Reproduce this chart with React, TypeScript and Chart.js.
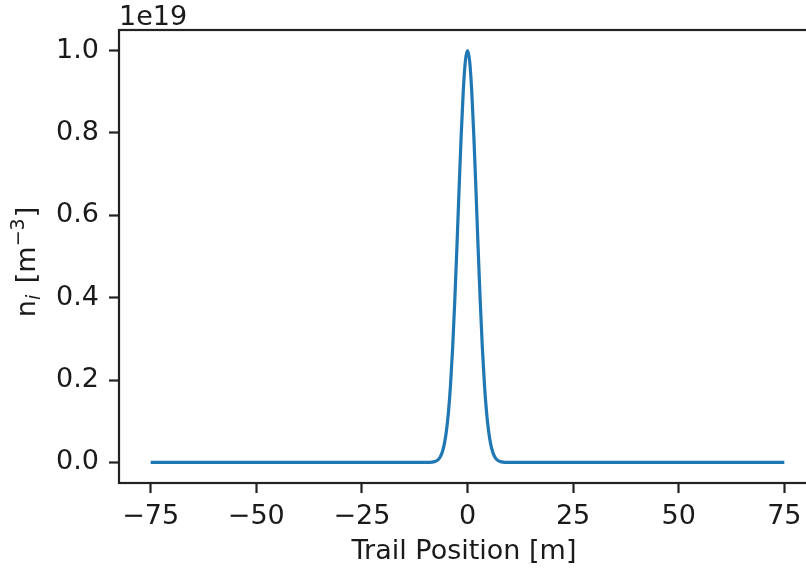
import React, { useEffect, useRef } from 'react';
import { Chart, registerables } from 'chart.js';

Chart.register(...registerables);

// Trail position [m]
const positions = [
  -75, -10, -8, -7.5, -7, -6.5, -6, -5.5, -5, -4.5, -4, -3.5, -3, -2.5, -2, -1.5, -1, -0.5,
  0, 0.5, 1, 1.5, 2, 2.5, 3, 3.5, 4, 4.5, 5, 5.5, 6, 6.5, 7, 7.5, 8, 10, 75,
];
// Ion density, in units of 1e19 m^-3
const densities = [
  0, 0, 0.0014, 0.003, 0.0063, 0.0127, 0.0243, 0.0439, 0.0756, 0.123, 0.191, 0.282, 0.395, 0.524, 0.662, 0.793, 0.902, 0.975,
  1.0, 0.975, 0.902, 0.793, 0.662, 0.524, 0.395, 0.282, 0.191, 0.123, 0.0756, 0.0439, 0.0243, 0.0127, 0.0063, 0.003, 0.0014, 0, 0,
];
const xTicks = [-75, -50, -25, 0, 25, 50, 75];
const yTicks = [0, 0.2, 0.4, 0.6, 0.8, 1.0];
const offsetLabel = '1e19';
const xTitle = 'Trail Position [m]';

const FONT = "'DejaVu Sans', sans-serif";
const FS = 27;
const TEXT = '#1a1a1a';

const fmtX = (v: number) => (v < 0 ? '\u2212' + Math.abs(v) : String(v));

const decorPlugin = {
  id: 'decor',
  beforeDraw(chart: any) {
    const ctx = chart.ctx;
    ctx.save();
    ctx.fillStyle = '#fff';
    ctx.fillRect(0, 0, chart.width, chart.height);
    ctx.restore();
  },
  afterDraw(chart: any) {
    const ctx = chart.ctx;
    const a = chart.chartArea;
    ctx.save();
    ctx.strokeStyle = '#222';
    ctx.lineWidth = 2.2;
    ctx.strokeRect(a.left, a.top, a.right - a.left, a.bottom - a.top);

    ctx.fillStyle = TEXT;
    ctx.textBaseline = 'alphabetic';
    ctx.font = `${FS}px ${FONT}`;
    ctx.textAlign = 'left';
    ctx.fillText(offsetLabel, a.left, 25);

    ctx.textAlign = 'center';
    ctx.fillText(xTitle, 464, 559);

    // y title: n_i [m^-3]
    const sub = Math.round(FS * 0.7);
    const segs = [
      { t: 'n', s: FS, dy: 0, it: false, gap: 0 },
      { t: 'i', s: sub, dy: 5, it: true, gap: 3 },
      { t: ' [m', s: FS, dy: 0, it: false, gap: 0 },
      { t: '\u22123', s: sub, dy: -11, it: false, gap: 1 },
      { t: ']', s: FS, dy: 0, it: false, gap: 0 },
    ];
    let total = 0;
    const widths: number[] = [];
    for (const sg of segs) {
      ctx.font = `${sg.it ? 'italic ' : ''}${sg.s}px ${FONT}`;
      const w = ctx.measureText(sg.t).width + sg.gap;
      widths.push(w);
      total += w;
    }
    ctx.translate(35, 262);
    ctx.rotate(-Math.PI / 2);
    ctx.textAlign = 'left';
    let x = -total / 2;
    segs.forEach((sg, i) => {
      ctx.font = `${sg.it ? 'italic ' : ''}${sg.s}px ${FONT}`;
      ctx.fillText(sg.t, x, sg.dy);
      x += widths[i];
    });
    ctx.restore();
  },
};

export default function App() {
  const ref = useRef<HTMLCanvasElement>(null);
  useEffect(() => {
    if (!ref.current) return;
    const data = positions.map((p, i) => ({ x: p, y: densities[i] }));
    const tickFont = { family: FONT, size: FS };
    const chart = new Chart(ref.current, {
      type: 'line',
      data: {
        datasets: [
          {
            data,
            borderColor: '#1f77b4',
            borderWidth: 3.2,
            pointRadius: 0,
            fill: false,
            cubicInterpolationMode: 'monotone',
          },
        ],
      },
      options: {
        responsive: false,
        animation: false,
        layout: { padding: { top: 30, right: 14, left: 0, bottom: 0 } },
        plugins: { legend: { display: false }, tooltip: { enabled: false } },
        scales: {
          x: {
            type: 'linear',
            min: -82.5,
            max: 82.5,
            afterBuildTicks: (s: any) => {
              s.ticks = xTicks.map((v) => ({ value: v }));
            },
            afterFit: (s: any) => {
              s.height = 86;
            },
            grid: { drawOnChartArea: false, tickLength: 10, tickColor: '#222', tickWidth: 2.2 },
            border: { display: false },
            ticks: {
              color: TEXT,
              font: tickFont,
              padding: 8,
              maxRotation: 0,
              autoSkip: false,
              callback: (v: any) => fmtX(Number(v)),
            },
          },
          y: {
            type: 'linear',
            min: -0.05,
            max: 1.05,
            afterBuildTicks: (s: any) => {
              s.ticks = yTicks.map((v) => ({ value: v }));
            },
            afterFit: (s: any) => {
              s.width = 119;
            },
            grid: { drawOnChartArea: false, tickLength: 10, tickColor: '#222', tickWidth: 2.2 },
            border: { display: false },
            ticks: {
              color: TEXT,
              font: tickFont,
              padding: 10,
              autoSkip: false,
              callback: (v: any) => Number(v).toFixed(1),
            },
          },
        },
      },
      plugins: [decorPlugin],
    } as any);
    return () => chart.destroy();
  }, []);
  return (
    <div
      style={{
        position: 'fixed',
        left: 0,
        top: 0,
        width: 806,
        height: 569,
        overflow: 'hidden',
        background: '#fff',
      }}
    >
      <canvas ref={ref} width={830} height={569} style={{ display: 'block', width: 830, height: 569 }} />
    </div>
  );
}
